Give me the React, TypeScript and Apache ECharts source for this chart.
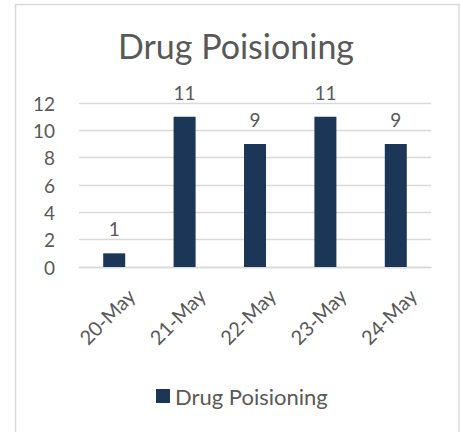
import React, { useEffect, useRef } from "react";
import * as echarts from "echarts";

const categories = ["20-May", "21-May", "22-May", "23-May", "24-May"];
const values = [1, 11, 9, 11, 9];
const seriesName = "Drug Poisioning";
const titleText = "Drug Poisioning";

const FONT = "Lato, 'Open Sans', sans-serif";
const TEXT = "#595959";
const BAR = "#1c3657";
const GRID = "#d9d9d9";

export default function App() {
  const ref = useRef<HTMLDivElement>(null);
  useEffect(() => {
    if (!ref.current) return;
    const chart = echarts.init(ref.current, undefined, { renderer: "svg" });
    chart.setOption({
      animation: false,
      backgroundColor: "#ffffff",
      graphic: [
        {
          type: "rect",
          shape: { x: 15.5, y: 4.5, width: 443.5, height: 440 },
          style: { fill: "none", stroke: GRID, lineWidth: 1.5, lineJoin: "miter" },
          silent: true,
        },
        {
          type: "text",
          x: 236,
          y: 45,
          style: {
            text: titleText,
            fontFamily: FONT,
            fontSize: 34,
            fill: TEXT,
            align: "center",
            verticalAlign: "middle",
          },
        },
      ],
      legend: {
        data: [seriesName],
        left: 156,
        top: 385,
        padding: 0,
        itemWidth: 14,
        itemHeight: 14,
        icon: "rect",
        textStyle: { fontFamily: FONT, fontSize: 22, color: TEXT },
      },
      grid: { left: 79, right: 29, top: 103, bottom: 165, containLabel: false },
      xAxis: {
        type: "category",
        data: categories,
        axisTick: { show: false },
        axisLine: { lineStyle: { color: GRID, width: 1.3 } },
        axisLabel: {
          rotate: 45,
          margin: 8,
          verticalAlign: "top",
          padding: [14, 0, 0, 0],
          fontFamily: FONT,
          fontSize: 20,
          color: TEXT,
          interval: 0,
        },
      },
      yAxis: {
        type: "value",
        min: 0,
        max: 12,
        interval: 2,
        axisLine: { show: false },
        axisTick: { show: false },
        splitLine: { lineStyle: { color: GRID, width: 1.3 } },
        axisLabel: { margin: 24, fontFamily: FONT, fontSize: 19, color: TEXT },
      },
      series: [
        {
          name: seriesName,
          type: "bar",
          data: values,
          barWidth: 22,
          itemStyle: { color: BAR },
          label: {
            show: true,
            position: "top",
            distance: 15,
            fontFamily: FONT,
            fontSize: 19,
            color: TEXT,
          },
        },
      ],
    });
    return () => chart.dispose();
  }, []);
  return (
    <div
      ref={ref}
      style={{ position: "absolute", left: 0, top: 0, width: 460, height: 432 }}
    />
  );
}
